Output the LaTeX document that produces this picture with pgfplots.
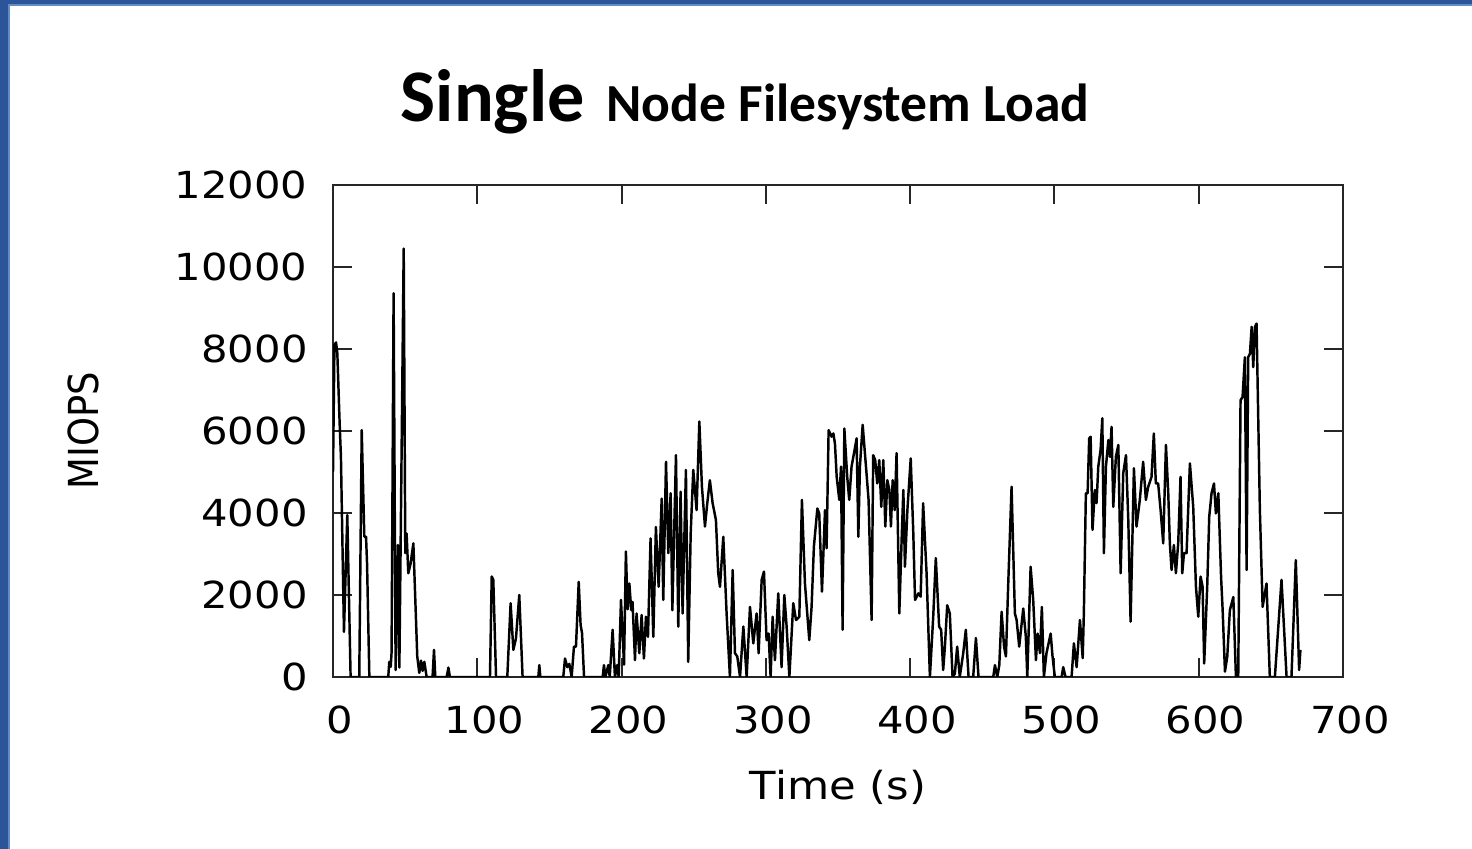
\documentclass[border=0pt]{standalone}
\usepackage{fontspec}
\setmainfont{DejaVu Sans}[FakeStretch=1.12]
\newfontfamily\plainfont{DejaVu Sans}
\newfontfamily\titlefont{Carlito}
\usepackage{pgfplots}
\pgfplotsset{compat=1.18}

\definecolor{framedark}{RGB}{44,84,152}
\definecolor{framelight}{RGB}{96,140,200}

\pgfplotstableread{
t v
0 5000
1 8100
2.1 8160
3 7900
4.6 6190
5.5 5370
7.6 1100
9.9 3950
12.2 0
18.2 0
19.9 6020
21.7 3420
22.9 3420
23.6 2770
25.2 0
38.3 0
39 370
40 250
40.6 600
42 9360
43.4 170
45 3220
46 230
49 10450
50.1 3020
51 3500
52.2 2530
53.8 2770
55.7 3260
58.4 500
59.8 100
61 400
62.1 150
63.3 370
64.9 0
69 0
70 660
70.9 0
78.8 0
80 230
81 0
108.8 0
110 2450
111.1 2370
113 0
120.8 0
123.1 1800
125 660
126.8 940
129.1 2000
131.4 0
142.3 0
143 290
143.7 0
159.6 0
160.8 450
162.4 240
163.8 320
165.4 0
167 740
168.4 740
170.3 2320
171.6 1270
172.6 1070
174 0
186.9 0
187.8 290
188.8 0
190.8 290
191.8 0
193.8 1150
195.4 0
197 290
198 0
199.6 1880
201.7 300
203 3060
204.2 1650
205.4 2280
206.7 1630
207.6 1830
209.3 410
210.4 1550
212.3 580
213.9 1510
215.5 450
216.9 1470
218.3 980
220.1 3380
222 980
223.8 3660
225.7 2200
227.8 4350
228.9 1880
230.8 5250
232.4 3020
234 4480
235.2 1630
237.7 5410
239.3 1230
240.9 4520
242.3 1550
244.6 5050
246.2 370
247.9 3500
249.7 5050
252 4070
253.9 6230
255.7 4640
257.8 3670
259.4 4240
261.2 4800
263.1 4240
265.4 3830
267 2530
268.2 2200
270.5 3420
272.8 1550
275.1 0
277 2610
278.6 580
280.2 500
282.1 0
284.4 1230
286.7 0
289 1710
291.3 820
293.6 1550
295 580
297.1 2370
298.7 2570
300.5 900
301.9 1060
303.3 0
304.7 1470
306.3 410
308.6 2040
310.9 240
312.8 2000
314.4 1230
316.3 0
319 1800
320.9 1390
323.2 1470
325 4320
327.1 2280
330.1 900
331.7 1710
333.3 3180
335.7 4110
337 3990
338.9 2080
341 4070
342.1 3140
343.5 6020
345.6 5860
346.8 5940
347.9 5690
349.1 4880
350.9 4320
352.1 5130
353.2 1150
354.4 6060
356.4 4880
357.8 4320
359.4 5130
361.1 5460
362.9 5820
364.1 3420
365.2 5130
367.1 6150
369.4 5130
371.2 4320
373.3 1390
374.4 5410
375.8 5290
377.2 4720
378.6 5290
380 4150
381.4 5290
382.8 3670
384.2 4800
385.6 4560
386.7 3670
387.9 4800
389.3 4070
390.6 5460
391.8 3020
392.5 1550
394.1 3340
395.3 4560
396.4 2690
398.1 4070
400.4 5330
402.2 3500
403.4 1880
405.7 2040
407.3 1960
409 4240
411.4 2530
413.7 0
416 1470
417.8 2900
420.1 1230
421.5 1150
422.9 170
424.1 740
425.7 1750
427.5 1550
429.4 0
431 80
432.6 740
434.4 0
436.8 580
438.6 1150
440.5 0
443.7 0
445.6 950
447.4 0
457.6 0
458.8 290
460.4 0
461.8 290
463.4 1590
465.1 740
466.4 500
468 2280
470.3 4640
472.6 1550
473.8 1390
475.6 740
478.4 1670
480.2 980
481.2 0
483.5 2690
485.3 1880
487.2 410
488.3 1060
490 580
491.3 1710
492.7 0
494.5 580
497.4 1060
498.7 500
500.3 0
505 0
506.1 240
507.7 0
511.9 0
513.5 820
515.4 240
517.7 1390
519.6 460
520.4 1550
521.8 4480
523 4480
524.1 5820
525.1 5860
526.4 3590
528 4560
529.2 4240
530.4 5130
532 5540
533.2 6310
534.3 3020
535.7 5130
537.4 5780
538.5 5370
539.6 6100
540.8 4150
542.6 5370
544.3 5660
545.9 2530
547.7 4970
549.6 5410
551.2 3830
552.8 1350
555.1 5090
556.9 3670
559.2 4320
561.5 5250
563.4 4320
565 4640
567.3 4880
568.9 5940
570.3 4720
571.9 4720
573.6 4070
575.4 3260
577.3 5660
578.9 4480
580 3260
581.2 2610
582.8 3220
584.2 2530
585.8 3260
587.4 4880
588.6 2530
589.8 3020
591.6 3020
593.9 5210
596.2 4150
598.1 2200
599.7 1470
601.3 2450
602.7 2200
603.8 330
605.9 2200
607.3 3910
608.9 4480
610.6 4720
611.9 3990
613.6 4480
615.5 2450
616.6 1630
618.2 130
619.8 500
621.6 1630
624 1950
625.8 0
627.4 0
629 6750
630.4 6830
632 7800
633.2 2610
634.3 7800
635.5 7880
636.7 8540
637.8 7560
639 8540
640.1 8620
642.4 4070
644.3 1710
647 2280
649.3 0
652.8 0
657.4 2370
660.9 0
664.3 0
667.3 2850
669.6 170
670.5 660
}\loadtable

\begin{document}
\begin{tikzpicture}
% slide background with the blue frame at left and top
\fill[framedark] (0,0) rectangle (14.72,8.49);
\fill[framelight] (0.08,0) rectangle (14.72,8.45);
\fill[white] (0.10,0) rectangle (14.72,8.433);
\useasboundingbox (0,0) rectangle (14.72,8.49);

\node[anchor=base] at (7.45,7.27) {\titlefont\bfseries
  {\fontsize{21.1}{25}\selectfont Single}\hspace{2.2mm}{\fontsize{15.25}{18}\selectfont Node Filesystem Load}};

\begin{axis}[
  at={(3.33cm,1.72cm)}, anchor=south west,
  scale only axis,
  width=10.1cm, height=4.92cm,
  xmin=0, xmax=700, ymin=0, ymax=12000,
  xtick={0,100,...,700},
  ytick={0,2000,...,12000},
  scaled y ticks=false,
  /pgf/number format/1000 sep={},
  /pgf/number format/assume math mode=true,
  tick align=inside,
  major tick length=1.9mm,
  axis line style={black!85, line width=0.6pt},
  every tick/.style={black!85, line width=0.6pt},
  tick label style={font=\fontsize{10.6}{12.7}\selectfont},
  xticklabel style={yshift=-1.6mm, xshift=0.7mm},
  yticklabel style={xshift=-1.3mm},
  xlabel={\fontsize{11}{13.2}\selectfont Time (s)},
  ylabel={\plainfont\fontsize{10.5}{12.6}\selectfont\scalebox{1}[1.12]{MIOPS}},
  every axis x label/.style={at={(axis description cs:0.5,-0.2236)}, anchor=center},
  every axis y label/.style={at={(axis description cs:-0.2475,0.5)}, rotate=90, anchor=center},
]
\addplot[black, line width=0.7pt, mark=none, line join=round] table[x=t, y=v] {\loadtable};
\end{axis}
\end{tikzpicture}
\end{document}
